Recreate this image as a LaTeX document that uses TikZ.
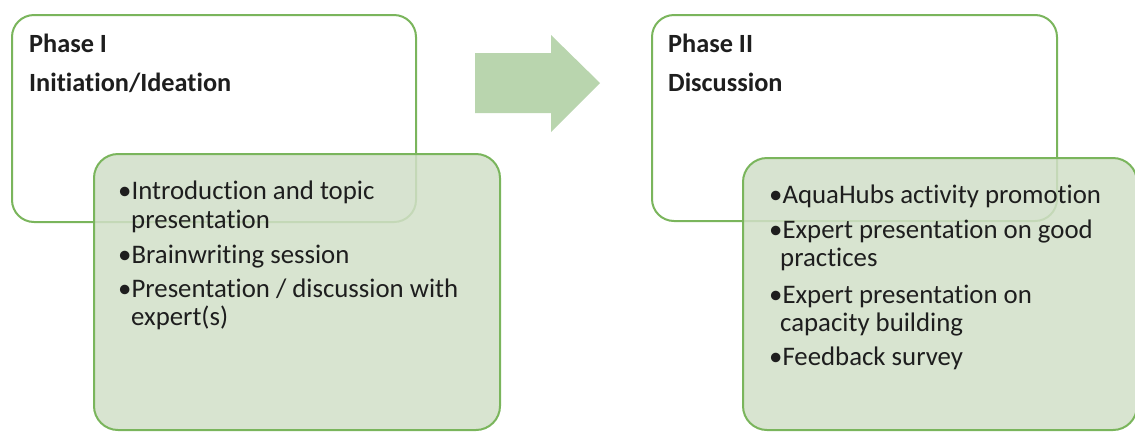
\documentclass[tikz,border=0pt]{standalone}
\usepackage{fontspec}
\setmainfont{Carlito}[Ligatures=NoCommon]
\definecolor{bord}{RGB}{122,181,92}
\definecolor{gfill}{RGB}{209,223,200}
\definecolor{afill}{RGB}{185,213,174}
\definecolor{txt}{RGB}{30,30,30}
\tikzset{
  whitebox/.style={draw=bord, line width=2pt, fill=white, rounded corners=22pt},
  greenbox/.style={draw=bord, line width=2pt, fill=gfill, fill opacity=0.85, rounded corners=24pt},
  ttl/.style={anchor=base west, inner sep=0pt, font=\fontsize{26.3}{30}\selectfont\bfseries, text=txt},
  itm/.style={anchor=base west, inner sep=0pt, font=\fontsize{26.8}{30}\selectfont, text=txt},
}
\begin{document}
\begin{tikzpicture}[x=1pt,y=-1pt]
\useasboundingbox (0,0) rectangle (1135,432);
% left phase
\draw[whitebox] (12,15) rectangle (416,222);
\node[ttl] (t1a) at (29,52) {Phase I};
\node[ttl] (t1b) at (29,91) {Initiation/Ideation};
\draw[greenbox] (94,154) rectangle (500,430);
\node[itm] (l1) at (118,199) {•Introduction and topic};
\node[itm] (l2) at (131,228) {presentation};
\node[itm] (l3) at (118,263) {•Brainwriting session};
\node[itm] (l4) at (118,297) {•Presentation / discussion with};
\node[itm] (l5) at (131,325) {expert(s)};
% arrow
\fill[afill] (475,53) -- (551,53) -- (551,35) -- (600,83) -- (551,132) -- (551,113) -- (475,113) -- cycle;
% right phase
\draw[whitebox] (652,15) rectangle (1057,221);
\node[ttl] (t2a) at (668,52) {Phase II};
\node[ttl] (t2b) at (668,91) {Discussion};
\draw[greenbox] (743,158) rectangle (1137,430);
\node[itm] (r1) at (769,203) {•AquaHubs activity promotion};
\node[itm] (r2) at (769,238) {•Expert presentation on good};
\node[itm] (r3) at (780,266) {practices};
\node[itm] (r4) at (769,303) {•Expert presentation on};
\node[itm] (r5) at (780,331) {capacity building};
\node[itm] (r6) at (769,365) {•Feedback survey};
\end{tikzpicture}
\end{document}
